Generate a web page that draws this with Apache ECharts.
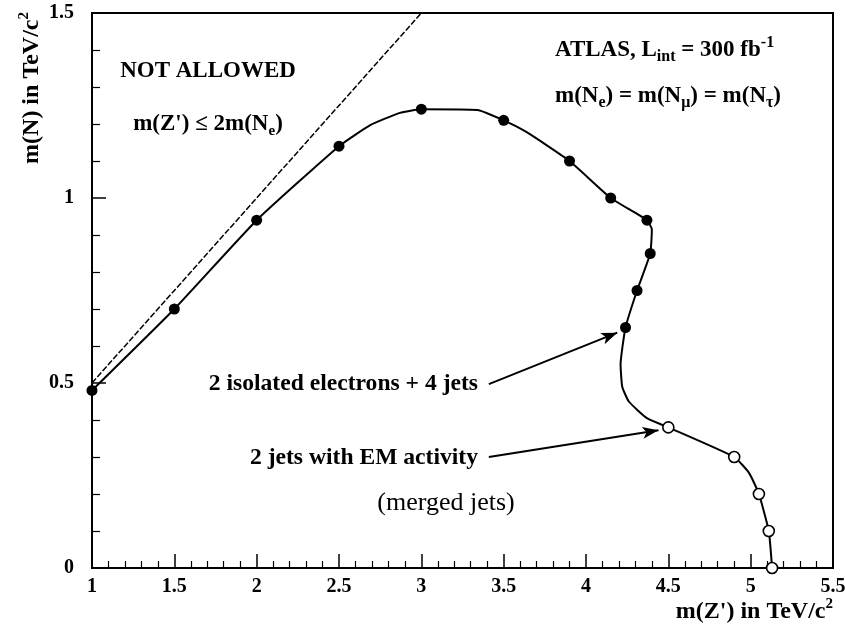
<!DOCTYPE html>
<html>
<head>
<meta charset="utf-8">
<script src="https://cdn.jsdelivr.net/npm/echarts@6/dist/echarts.min.js"></script>
<style>html,body{margin:0;padding:0;background:#fff}#c{width:845px;height:627px}</style>
</head>
<body>
<div id="c"></div>
<script>
// Curve path m(Z') vs m(N) (TeV/c^2)
const pathZ = [1.0, 1.5, 2.0, 2.5, 2.69, 2.87, 3.0, 3.34, 3.5, 3.64, 3.9, 4.15, 4.37, 4.40, 4.39, 4.31, 4.24, 4.21, 4.22, 4.26, 4.37, 4.5, 4.9, 4.99, 5.05, 5.11, 5.13];
const pathN = [0.48, 0.70, 0.94, 1.14, 1.197, 1.23, 1.24, 1.238, 1.21, 1.178, 1.10, 1.0, 0.94, 0.915, 0.85, 0.75, 0.65, 0.55, 0.49, 0.45, 0.405, 0.38, 0.30, 0.257, 0.20, 0.10, 0.0];
// filled markers: 2 isolated electrons + 4 jets
const elecZ = [1.0, 1.5, 2.0, 2.5, 3.0, 3.5, 3.9, 4.15, 4.37, 4.39, 4.31, 4.24];
const elecN = [0.48, 0.70, 0.94, 1.14, 1.24, 1.21, 1.10, 1.0, 0.94, 0.85, 0.75, 0.65];
// open markers: 2 jets with EM activity
const jetZ = [4.5, 4.9, 5.05, 5.11, 5.13];
const jetN = [0.38, 0.30, 0.20, 0.10, 0.0];
// kinematic limit m(Z') = 2 m(N)
const limitZ = [1.0, 3.0];
const limitN = [0.5, 1.5];
// arrows (start -> tip) in data units
const arrowStartZ = [3.41, 3.41];
const arrowStartN = [0.497, 0.30];
const arrowEndZ = [4.19, 4.44];
const arrowEndN = [0.636, 0.372];

const zip = (a, b) => a.map((v, i) => [v, b[i]]);
const FF = '"Liberation Serif", "Times New Roman", serif';
const chart = echarts.init(document.getElementById('c'), null, {renderer: 'canvas'});

function richSet(size, small) {
  return {
    b: {fontFamily: FF, fontWeight: 'bold', fontSize: size, lineHeight: 30, verticalAlign: 'middle', color: '#000'},
    sub: {fontFamily: FF, fontWeight: 'bold', fontSize: small, lineHeight: small, verticalAlign: 'bottom', color: '#000'},
    sup: {fontFamily: FF, fontWeight: 'bold', fontSize: small, lineHeight: small, verticalAlign: 'top', color: '#000'},
    r: {fontFamily: FF, fontWeight: 'normal', fontSize: size + 3, lineHeight: 30, verticalAlign: 'middle', color: '#000'}
  };
}
function txt(text, x, y, align, size, small, extra) {
  return Object.assign({
    type: 'text', x: x, y: y, silent: true,
    style: {text: text, rich: richSet(size, small || 14), textAlign: align, textVerticalAlign: 'middle', align: align, verticalAlign: 'middle', fill: '#000'}
  }, extra || {});
}

const option = {
  animation: false,
  backgroundColor: '#fff',
  grid: {left: 92, right: 12, top: 13, bottom: 59, containLabel: false, outerBoundsMode: 'none', show: true, borderColor: '#000', borderWidth: 2, backgroundColor: 'transparent'},
  xAxis: {
    type: 'value', min: 1, max: 5.5, interval: 0.5,
    axisLine: {show: true, lineStyle: {color: '#000', width: 2}},
    axisTick: {show: true, inside: true, length: 14, lineStyle: {color: '#000', width: 1.5}},
    minorTick: {show: true, splitNumber: 5, length: 7, lineStyle: {color: '#000', width: 1.2}},
    splitLine: {show: false},
    axisLabel: {color: '#000', fontFamily: FF, fontWeight: 'bold', fontSize: 20, margin: 9, showMaxLabel: true, showMinLabel: true, hideOverlap: false}
  },
  yAxis: {
    type: 'value', min: 0, max: 1.5, interval: 0.5,
    axisLine: {show: true, lineStyle: {color: '#000', width: 2}},
    axisTick: {show: true, inside: true, length: 14, lineStyle: {color: '#000', width: 1.5}},
    minorTick: {show: true, splitNumber: 5, length: 8, lineStyle: {color: '#000', width: 1.2}},
    splitLine: {show: false},
    axisLabel: {color: '#000', fontFamily: FF, fontWeight: 'bold', fontSize: 20, margin: 18}
  },
  series: [
    {
      type: 'line', data: zip(limitZ, limitN), showSymbol: false, silent: true,
      lineStyle: {color: '#000', width: 1.5, type: [6, 2]}
    },
    {
      type: 'line', data: zip(pathZ, pathN), showSymbol: false, silent: true, smooth: 0.15,
      lineStyle: {color: '#000', width: 2}, z: 3
    },
    {
      type: 'scatter', data: zip(elecZ, elecN), symbol: 'circle', symbolSize: 11, silent: true,
      itemStyle: {color: '#000', opacity: 1}, z: 4
    },
    {
      type: 'scatter', data: zip(jetZ, jetN), symbol: 'circle', symbolSize: 11, silent: true,
      itemStyle: {color: '#fff', borderColor: '#000', borderWidth: 1.6, opacity: 1}, z: 4,
      markLine: {
        silent: true, symbol: ['none', 'arrow'], symbolSize: [9, 16], precision: 3,
        label: {show: false},
        lineStyle: {color: '#000', width: 2, type: 'solid'},
        data: arrowStartZ.map((z, i) => [
          {coord: [z, arrowStartN[i]]},
          {coord: [arrowEndZ[i], arrowEndN[i]]}
        ])
      }
    }
  ],
  graphic: [
    txt('{b|NOT ALLOWED}', 208, 71, 'center', 23),
    txt('{b|m(Z\') \u2264 2m(N}{sub|e}{b|)}', 208, 124, 'center', 23, 15),
    txt('{b|ATLAS, L}{sub|int}{b| = 300 fb}{sup|-1}', 555, 50, 'left', 23, 16),
    txt('{b|m(N}{sub|e}{b|) = m(N}{sub|\u03bc}{b|) = m(N}{sub|\u03c4}{b|)}', 555, 96, 'left', 23, 16),
    txt('{b|2 isolated electrons + 4 jets}', 478, 384, 'right', 23.6),
    txt('{b|2 jets with EM activity}', 478, 458, 'right', 23.6),
    txt('{r|(merged jets)}', 446, 503, 'center', 23),
    txt('{b|m(Z\') in TeV/c}{sup|2}', 833, 612, 'right', 24, 15),
    txt('{b|m(N) in TeV/c}{sup|2}', 32, 12, 'right', 24, 15, {rotation: Math.PI / 2})
  ]
};
chart.setOption(option);
</script>
</body>
</html>
